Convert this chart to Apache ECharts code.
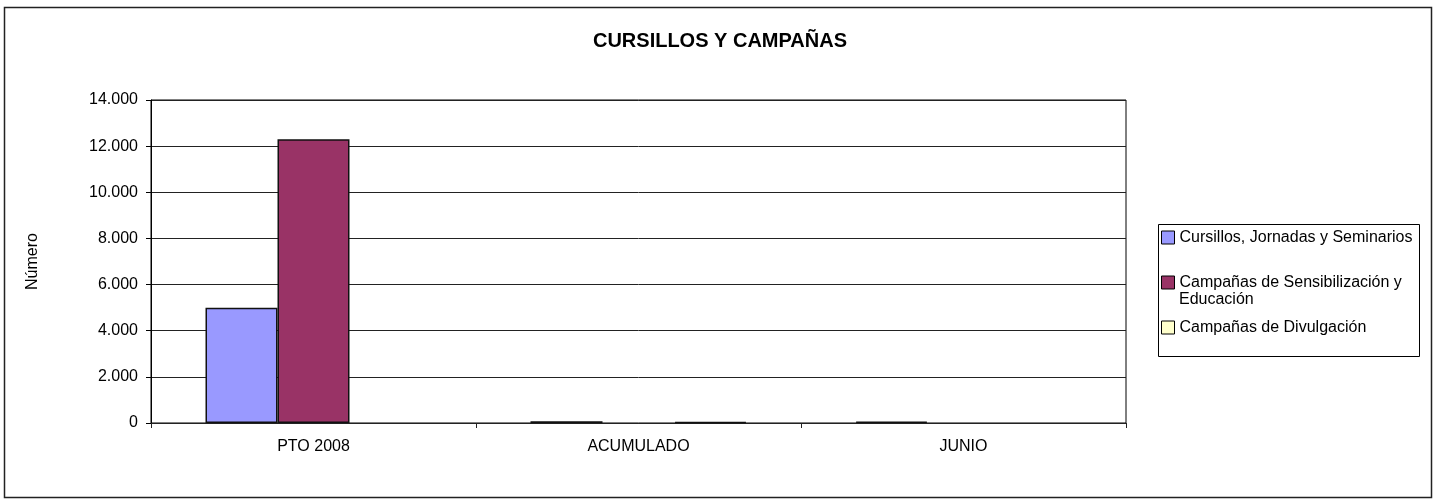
<!DOCTYPE html>
<html>
<head>
<meta charset="utf-8">
<script src="https://cdn.jsdelivr.net/npm/echarts@6/dist/echarts.min.js"></script>
<style>
  html, body { margin: 0; padding: 0; background: #fff; }
  #chart { width: 1440px; height: 501px; }
</style>
</head>
<body>
<div id="chart"></div>
<script>
// Periods shown on the category axis
const categories = ['PTO 2008', 'ACUMULADO', 'JUNIO'];

// Series names and values (number of actions)
const seriesNames = [
  'Cursillos, Jornadas y Seminarios',
  'Campañas de Sensibilización y Educación',
  'Campañas de Divulgación'
];
const cursillos = [5000, 80, 55];
const sensibilizacion = [12300, 0, 0];
const divulgacion = [0, 50, 0];

// Value axis ticks
const yTicks = [0, 2000, 4000, 6000, 8000, 10000, 12000, 14000];

const colors = ['#9999FF', '#993366', '#FFFFCC'];
const FONT = 'Liberation Sans, Arial, sans-serif';

function fmtThousands(v) {
  return String(v).replace(/\B(?=(\d{3})+(?!\d))/g, '.');
}

const chart = echarts.init(document.getElementById('chart'), null, { renderer: 'canvas' });

function barSeries(name, data, color) {
  return {
    name: name,
    type: 'bar',
    // empty cells (zero) get no outlined bar
    data: data.map(function (v) { return v === 0 ? null : v; }),
    barWidth: 72,
    barGap: '0%',
    itemStyle: { color: color, borderColor: '#111', borderWidth: 1.5 },
    emphasis: { disabled: true },
    animation: false
  };
}

function legendFor(name, top) {
  return {
    data: [name],
    left: 1161,
    top: top,
    orient: 'vertical',
    padding: 0,
    itemWidth: 13,
    itemHeight: 13,
    itemGap: 0,
    icon: 'rect',
    selectedMode: false,
    formatter: function (n) {
      return n === seriesNames[1] ? 'Campañas de Sensibilización y' : n;
    },
    itemStyle: { borderColor: '#000', borderWidth: 1 },
    textStyle: { fontFamily: FONT, fontSize: 16, color: '#000', lineHeight: 17 }
  };
}

const option = {
  backgroundColor: '#fff',
  animation: false,
  title: {
    text: 'CURSILLOS Y CAMPAÑAS',
    left: 'center',
    top: 31,
    padding: 0,
    textStyle: { fontFamily: FONT, fontSize: 20, fontWeight: 'bold', color: '#000' }
  },
  grid: {
    left: 151, right: 314, top: 100, bottom: 78,
    show: true, borderColor: '#000', borderWidth: 1, backgroundColor: 'transparent'
  },
  legend: [
    legendFor(seriesNames[0], 229),
    legendFor(seriesNames[1], 274),
    legendFor(seriesNames[2], 319)
  ],
  xAxis: {
    type: 'category',
    data: categories,
    axisLine: { lineStyle: { color: '#222', width: 1 } },
    axisTick: { show: true, length: 5, lineStyle: { color: '#222' } },
    axisLabel: { fontFamily: FONT, fontSize: 16, color: '#000', margin: 16 },
    splitLine: { show: false }
  },
  yAxis: {
    type: 'value',
    min: yTicks[0],
    max: yTicks[yTicks.length - 1],
    interval: yTicks[1] - yTicks[0],
    name: 'Número',
    nameLocation: 'middle',
    nameRotate: 90,
    nameGap: 110,
    nameTextStyle: { fontFamily: FONT, fontSize: 16, color: '#000' },
    axisLine: { show: true, lineStyle: { color: '#000', width: 1 } },
    axisTick: { show: true, length: 5, lineStyle: { color: '#000' } },
    axisLabel: {
      fontFamily: FONT, fontSize: 16, color: '#000', margin: 13,
      formatter: function (v) { return fmtThousands(v); }
    },
    splitLine: { show: true, lineStyle: { color: '#222', width: 1 } }
  },
  series: [
    barSeries(seriesNames[0], cursillos, colors[0]),
    barSeries(seriesNames[1], sensibilizacion, colors[1]),
    barSeries(seriesNames[2], divulgacion, colors[2])
  ],
  graphic: [
    {
      type: 'rect',
      shape: { x: 4.5, y: 7.5, width: 1427, height: 490 },
      style: { fill: 'none', stroke: '#222', lineWidth: 1.5 },
      silent: true
    },
    {
      type: 'rect',
      shape: { x: 1158.5, y: 224.5, width: 261, height: 132 },
      style: { fill: 'none', stroke: '#000', lineWidth: 1 },
      silent: true
    },
    {
      type: 'text',
      left: 1179,
      top: 292,
      style: { text: 'Educación', font: '16px ' + FONT, fill: '#000' },
      silent: true
    }
  ]
};

chart.setOption(option);
</script>
</body>
</html>
